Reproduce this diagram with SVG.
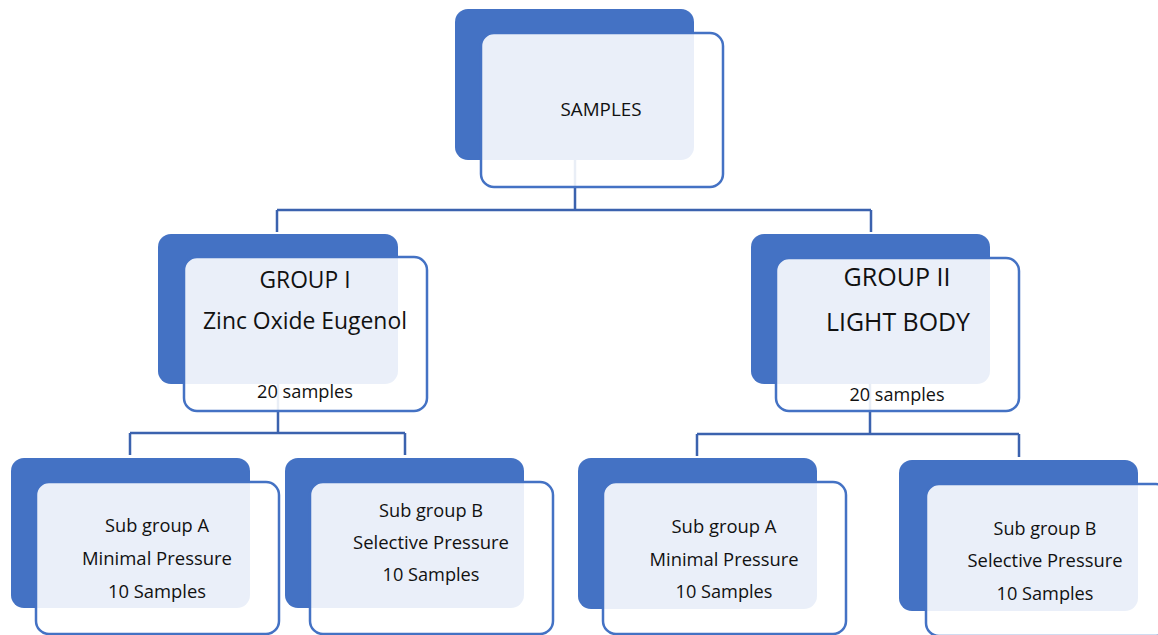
<svg xmlns="http://www.w3.org/2000/svg" width="1158" height="635" viewBox="0 0 1158 635">
<style>
.back{fill:#4472c4}
.front{fill:#ffffff;fill-opacity:0.89;stroke:#4472c4;stroke-width:2.5}
.conn{fill:none;stroke:#3b62ae;stroke-width:2.5}
text{font-family:"Open Sans","Noto Sans",sans-serif;fill:#111;text-anchor:middle}
.s{font-size:18.5px}
.g{font-size:23.5px}
.g2{font-size:25.5px}
</style>
<rect width="1158" height="635" fill="#ffffff"/>
<g id="connectors">
<path class="conn" d="M575 160V210M277 210H871M277 210V232M871 210V232"/>
<path class="conn" d="M278 384V433M130 433H405M130 433V455M405 433V455"/>
<path class="conn" d="M870 384V434M697 434H1019M697 434V456M1019 434V457"/>
</g>
<g id="samples">
<rect class="back" x="455" y="9" width="239" height="151" rx="13"/>
<rect class="front" x="481" y="33" width="242" height="154" rx="13"/>
<text class="s" x="601" y="116" textLength="81" lengthAdjust="spacingAndGlyphs">SAMPLES</text>
</g>
<g id="group1">
<rect class="back" x="158" y="234" width="240" height="150" rx="13"/>
<rect class="front" x="184" y="257" width="243" height="154" rx="13"/>
<text class="g" x="305" y="288" textLength="91" lengthAdjust="spacingAndGlyphs">GROUP I</text>
<text class="g" x="305" y="329" textLength="204" lengthAdjust="spacingAndGlyphs">Zinc Oxide Eugenol</text>
<text class="s" x="305" y="398" textLength="96" lengthAdjust="spacingAndGlyphs">20 samples</text>
</g>
<g id="group2">
<rect class="back" x="751" y="234" width="239" height="150" rx="13"/>
<rect class="front" x="776" y="258" width="243" height="153" rx="13"/>
<text class="g2" x="897" y="286" textLength="107" lengthAdjust="spacingAndGlyphs">GROUP II</text>
<text class="g2" x="898" y="331" textLength="144" lengthAdjust="spacingAndGlyphs">LIGHT BODY</text>
<text class="s" x="897" y="401" textLength="95" lengthAdjust="spacingAndGlyphs">20 samples</text>
</g>
<g id="subA1">
<rect class="back" x="11" y="458" width="239" height="150" rx="13"/>
<rect class="front" x="36" y="482" width="243" height="152" rx="13"/>
<text class="s" x="157" y="532" textLength="104" lengthAdjust="spacingAndGlyphs">Sub group A</text>
<text class="s" x="157" y="565" textLength="150" lengthAdjust="spacingAndGlyphs">Minimal Pressure</text>
<text class="s" x="157" y="598" textLength="98" lengthAdjust="spacingAndGlyphs">10 Samples</text>
</g>
<g id="subB1">
<rect class="back" x="285" y="458" width="239" height="150" rx="13"/>
<rect class="front" x="310" y="482" width="243" height="152" rx="13"/>
<text class="s" x="431" y="517" textLength="104" lengthAdjust="spacingAndGlyphs">Sub group B</text>
<text class="s" x="431" y="549" textLength="156" lengthAdjust="spacingAndGlyphs">Selective Pressure</text>
<text class="s" x="431" y="581" textLength="97" lengthAdjust="spacingAndGlyphs">10 Samples</text>
</g>
<g id="subA2">
<rect class="back" x="578" y="458" width="239" height="151" rx="13"/>
<rect class="front" x="603" y="482" width="243" height="152" rx="13"/>
<text class="s" x="724" y="533" textLength="105" lengthAdjust="spacingAndGlyphs">Sub group A</text>
<text class="s" x="724" y="566" textLength="149" lengthAdjust="spacingAndGlyphs">Minimal Pressure</text>
<text class="s" x="724" y="598" textLength="97" lengthAdjust="spacingAndGlyphs">10 Samples</text>
</g>
<g id="subB2">
<rect class="back" x="899" y="460" width="239" height="151" rx="13"/>
<rect class="front" x="926" y="484" width="243" height="152" rx="13"/>
<text class="s" x="1045" y="535" textLength="103" lengthAdjust="spacingAndGlyphs">Sub group B</text>
<text class="s" x="1045" y="567" textLength="155" lengthAdjust="spacingAndGlyphs">Selective Pressure</text>
<text class="s" x="1045" y="600" textLength="97" lengthAdjust="spacingAndGlyphs">10 Samples</text>
</g>
</svg>
